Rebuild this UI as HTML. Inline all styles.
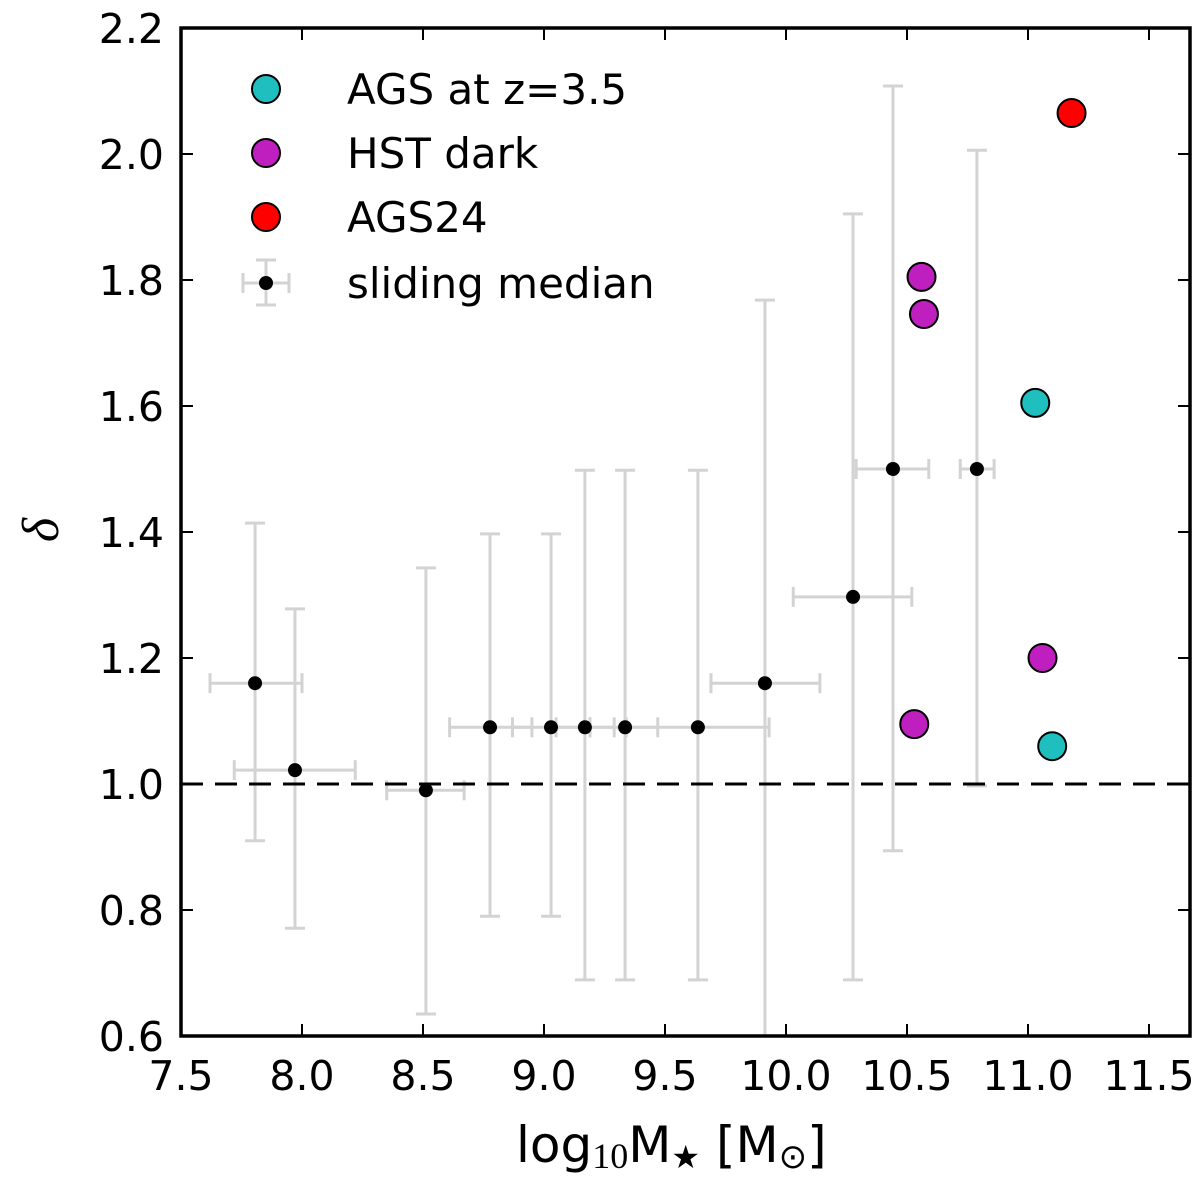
<!DOCTYPE html>
<html><head><meta charset="utf-8"><style>
body{margin:0;background:#fff}
svg{display:block;font-family:"DejaVu Sans","Liberation Sans",sans-serif}
</style></head><body>
<svg id="chart" width="1200" height="1179" viewBox="0 0 1200 1179" xmlns="http://www.w3.org/2000/svg">
</svg>
<script>
const medX=[7.806,7.971,8.512,8.777,9.029,9.169,9.335,9.636,9.913,10.277,10.442,10.789];
const medY=[1.16,1.022,0.99,1.09,1.09,1.09,1.09,1.09,1.16,1.297,1.5,1.5];
const medYlo=[0.91,0.771,0.635,0.79,0.79,0.689,0.689,0.689,0.55,0.689,0.894,0.997];
const medYhi=[1.414,1.278,1.343,1.397,1.397,1.498,1.498,1.498,1.768,1.905,2.108,2.006];
const medXlo=[7.62,7.72,8.35,8.61,8.87,9.05,9.19,9.34,9.69,10.03,10.29,10.72];
const medXhi=[8.0,8.22,8.67,8.95,9.19,9.29,9.47,9.93,10.14,10.52,10.59,10.86];
const agsX=[11.03,11.10], agsY=[1.605,1.06];
const hstX=[10.56,10.57,11.06,10.53], hstY=[1.805,1.746,1.2,1.095];
const a24X=[11.18], a24Y=[2.065];
const xTicks=[7.5,8.0,8.5,9.0,9.5,10.0,10.5,11.0,11.5];
const yTicks=[0.6,0.8,1.0,1.2,1.4,1.6,1.8,2.0,2.2];

const L=181,R=1190,T=28,B=1036,X0=7.5,X1=(R-L)/242+7.5,Y0=0.6,Y1=2.2;
const sx=v=>L+(v-X0)/(X1-X0)*(R-L);
const sy=v=>B-(v-Y0)/(Y1-Y0)*(B-T);
const svg=document.getElementById('chart');
const NS='http://www.w3.org/2000/svg';
function mk(tag,at,parent){const e=document.createElementNS(NS,tag);for(const k in at)e.setAttribute(k,at[k]);(parent||svg).appendChild(e);return e;}
const defs=mk('defs',{});const cp=mk('clipPath',{id:'pc'},defs);mk('rect',{x:L,y:T,width:R-L,height:B-T},cp);
const plot=mk('g',{'clip-path':'url(#pc)'});


for(let i=0;i<medX.length;i++){
  const g=mk('g',{stroke:'#d3d3d3','stroke-width':3,fill:'none'},plot);
  
  
  const x=sx(medX[i]),y=sy(medY[i]);
  mk('line',{x1:x,x2:x,y1:sy(medYlo[i]),y2:sy(medYhi[i])},g);
  mk('line',{x1:sx(medXlo[i]),x2:sx(medXhi[i]),y1:y,y2:y},g);
  [sy(medYlo[i]),sy(medYhi[i])].forEach(yy=>mk('line',{x1:x-10,x2:x+10,y1:yy,y2:yy},g));
  [sx(medXlo[i]),sx(medXhi[i])].forEach(xx=>mk('line',{x1:xx,x2:xx,y1:y-10,y2:y+10},g));
}
const dl=mk('line',{x1:L,x2:R,y1:sy(1),y2:sy(1),stroke:'#000','stroke-width':3,'stroke-dasharray':'22,12'},plot);


for(let i=0;i<medX.length;i++){
  const c=mk('circle',{cx:sx(medX[i]),cy:sy(medY[i]),r:7,fill:'#000'},plot);
  
  
}
function pts(xs,ys,col,name){for(let i=0;i<xs.length;i++){const c=mk('circle',{cx:sx(xs[i]),cy:sy(ys[i]),r:14,fill:col,stroke:'#000','stroke-width':2},plot);
  
  }}
pts(agsX,agsY,'#1fbfbf','ags-point');
pts(hstX,hstY,'#bf1fbf','hst-dark-point');
pts(a24X,a24Y,'#ff0000','ags24-point');
const fr=mk('rect',{x:L,y:T,width:R-L,height:B-T,fill:'none',stroke:'#000','stroke-width':3.5});


xTicks.forEach(v=>{const x=sx(v);
  mk('line',{x1:x,x2:x,y1:B,y2:B-12,stroke:'#000','stroke-width':2});
  mk('line',{x1:x,x2:x,y1:T,y2:T+12,stroke:'#000','stroke-width':2});
  const t=mk('text',{x:x,y:B+54,'font-size':41,'text-anchor':'middle'});t.textContent=v.toFixed(1);
  
  });
yTicks.forEach(v=>{const y=sy(v);
  mk('line',{x1:L,x2:L+12,y1:y,y2:y,stroke:'#000','stroke-width':2});
  mk('line',{x1:R,x2:R-12,y1:y,y2:y,stroke:'#000','stroke-width':2});
  const t=mk('text',{x:L-17,y:y+15,'font-size':41,'text-anchor':'end'});t.textContent=v.toFixed(1);
  
  });
</script>
<svg style="position:absolute;left:0;top:0" width="1200" height="1179" font-family="DejaVu Sans, Liberation Sans, sans-serif">
<text x="516" y="1162" font-size="50">log<tspan font-family="Liberation Serif, serif" font-size="36" dy="6">10</tspan><tspan dy="-6">M</tspan><tspan font-size="32" dy="6">★</tspan><tspan dy="-6"> [M</tspan><tspan font-size="34" dy="6">⊙</tspan><tspan dy="-6">]</tspan></text>
<text transform="translate(58,530) rotate(-90)" font-size="52" font-style="italic" font-family="Liberation Serif, serif" text-anchor="middle">δ</text>
<g font-size="42">
<circle cx="266" cy="89" r="14" fill="#1fbfbf" stroke="#000" stroke-width="2"/>
<text x="347" y="104">AGS at z=3.5</text>
<circle cx="266" cy="153" r="14" fill="#bf1fbf" stroke="#000" stroke-width="2"/>
<text x="347" y="168">HST dark</text>
<circle cx="266" cy="217" r="14" fill="#ff0000" stroke="#000" stroke-width="2"/>
<text x="347" y="232">AGS24</text>
<g stroke="#d3d3d3" stroke-width="3"><line x1="243" x2="289" y1="283" y2="283"/><line x1="266" x2="266" y1="260" y2="305"/><line x1="256" x2="276" y1="260" y2="260"/><line x1="256" x2="276" y1="305" y2="305"/><line x1="243" x2="243" y1="273" y2="293"/><line x1="289" x2="289" y1="273" y2="293"/></g>
<circle cx="266" cy="283" r="7" fill="#000"/>
<text x="347" y="298">sliding median</text>
</g>
</svg>
</body></html>
